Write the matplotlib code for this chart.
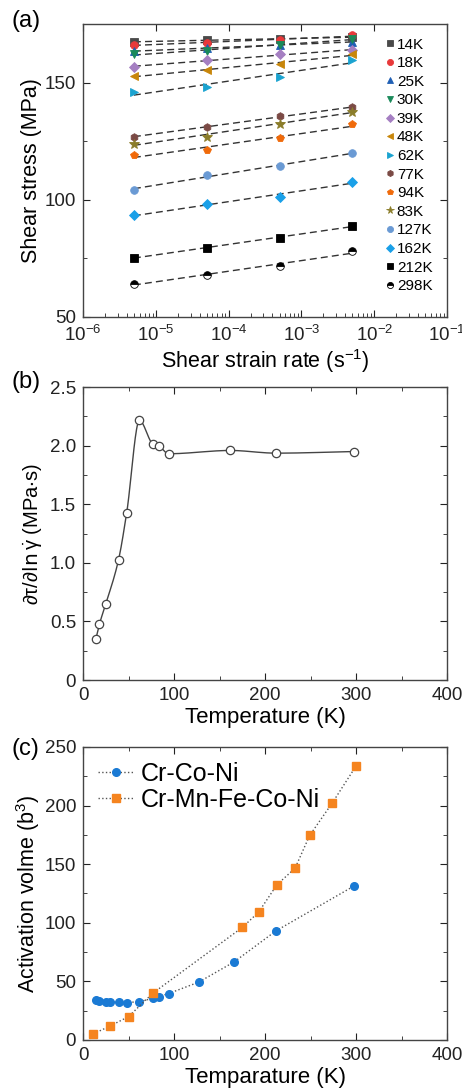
import numpy as np
import matplotlib
matplotlib.use("Agg")
import matplotlib.pyplot as plt
from matplotlib.ticker import MultipleLocator, FuncFormatter, LogLocator

plt.rcParams['font.family'] = ['Liberation Sans', 'DejaVu Sans']
plt.rcParams['mathtext.default'] = 'regular'

# ---- (a) shear stress vs strain rate ----
rates = [5e-6, 5e-5, 5e-4, 5e-3]
temps_a = ['14K', '18K', '25K', '30K', '39K', '48K', '62K', '77K', '94K', '83K',
           '127K', '162K', '212K', '298K']
stress = [
    [167.5, 168.0, 168.5, 169.5],
    [166.1, 167.0, 168.1, 170.1],
    [163.4, 164.8, 165.9, 167.4],
    [162.2, 163.4, 165.9, 168.7],
    [156.7, 159.5, 162.2, 163.7],
    [152.8, 155.3, 158.1, 162.0],
    [145.9, 148.1, 152.4, 159.8],
    [126.8, 131.2, 135.6, 139.4],
    [119.2, 121.1, 126.2, 132.3],
    [123.9, 126.9, 132.5, 137.6],
    [104.3, 110.6, 114.4, 119.8],
    [93.3, 98.2, 101.3, 107.7],
    [75.3, 79.6, 83.6, 88.9],
    [64.1, 68.0, 71.6, 78.0],
]
colors_a = ['#4a4a4a', '#e8393a', '#1f5fb4', '#1a8a5a', '#a57fc2', '#c8860a',
            '#1aa3d0', '#7b4a45', '#f06a0a', '#8b7d2a', '#6a9ad4', '#1aa0e8',
            '#000000', '#000000']
markers_a = ['s', 'o', '^', 'v', 'D', '<', '>', 'h', 'p', '*', 'o', 'D', 's', 'o']

# ---- (b) strain rate sensitivity ----
temp_b = [14, 18, 25, 39, 48, 62, 77, 83, 94, 162, 212, 298]
dtau = [0.347, 0.476, 0.649, 1.025, 1.429, 2.215, 2.013, 1.999, 1.931, 1.959, 1.936, 1.950]

# ---- (c) activation volume ----
temp_crconi = [14, 18, 25, 30, 39, 48, 62, 77, 83, 94, 127, 166, 212, 298]
vol_crconi = [34.2, 33.3, 32.7, 32.2, 32.2, 31.9, 32.7, 35.6, 37.0, 39.6, 49.3, 66.6, 93.1, 131.5]
temp_cantor = [11, 30, 50, 77, 175, 193, 213, 233, 249, 274, 300]
vol_cantor = [5.1, 12.0, 19.9, 40.1, 96.0, 109.1, 132.4, 146.6, 174.5, 202.4, 233.8]


def smooth_curve(x, y, n=400):
    # monotone cubic (Fritsch-Carlson) curve through the points
    x = np.asarray(x, float)
    y = np.asarray(y, float)
    h = np.diff(x)
    d = np.diff(y) / h
    m = np.zeros(len(x))
    m[0], m[-1] = d[0], d[-1]
    for i in range(1, len(x) - 1):
        if d[i - 1] * d[i] > 0:
            w1 = 2 * h[i] + h[i - 1]
            w2 = h[i] + 2 * h[i - 1]
            m[i] = (w1 + w2) / (w1 / d[i - 1] + w2 / d[i])
    xs = np.linspace(x[0], x[-1], n)
    k = np.clip(np.searchsorted(x, xs) - 1, 0, len(x) - 2)
    t = (xs - x[k]) / h[k]
    h00 = 2 * t ** 3 - 3 * t ** 2 + 1
    h10 = t ** 3 - 2 * t ** 2 + t
    h01 = -2 * t ** 3 + 3 * t ** 2
    h11 = t ** 3 - t ** 2
    ys = h00 * y[k] + h10 * h[k] * m[k] + h01 * y[k + 1] + h11 * h[k] * m[k + 1]
    return xs, ys


def style_axes(ax):
    ax.tick_params(which='both', direction='in', top=True, right=True,
                   labelsize=13.5, colors='#222222', pad=5)
    ax.tick_params(which='major', length=5)
    ax.tick_params(which='minor', length=3)
    for s in ax.spines.values():
        s.set_color('#444444')
        s.set_linewidth(1.0)


fig = plt.figure(figsize=(4.62, 10.9), dpi=100)

# (a)
ax1 = fig.add_axes([0.1797, 0.7092, 0.788, 0.2688])
lx = np.log10(rates)
for i, lab in enumerate(temps_a):
    coef = np.polyfit(lx, stress[i], 1)
    ax1.plot(rates, np.polyval(coef, lx), ls=(0, (5, 3)), color='#333333', lw=1.0, zorder=1)
    fs = 'top' if lab == '298K' else 'full'
    ms = 7 if markers_a[i] == '*' else 5.5
    ax1.plot(rates, stress[i], ls='none', marker=markers_a[i], color=colors_a[i],
             markersize=ms, fillstyle=fs, markerfacecoloralt='white',
             markeredgewidth=0.6, label=lab, zorder=2)
ax1.set_xscale('log')
ax1.set_xlim(1e-6, 1e-1)
ax1.set_ylim(50, 175)
ax1.yaxis.set_major_locator(MultipleLocator(50))
ax1.yaxis.set_minor_locator(MultipleLocator(25))
ax1.xaxis.set_major_locator(LogLocator(base=10, numticks=10))
ax1.xaxis.set_minor_locator(LogLocator(base=10, subs=np.arange(2, 10), numticks=10))
style_axes(ax1)
ax1.tick_params(which='minor', axis='x', top=False)
ax1.tick_params(axis='x', pad=6)
ax1.set_xlabel('Shear strain rate (s$^{-1}$)', fontsize=15.5, labelpad=1)
ax1.set_ylabel('Shear stress (MPa)', fontsize=15.5, labelpad=2)
ax1.legend(loc='upper right', bbox_to_anchor=(0.985, 0.985), frameon=False,
           fontsize=11, handlelength=0.6, handletextpad=0.15,
           labelspacing=0.3, markerscale=0.8, borderaxespad=0.2)
fig.text(0.025, 0.975, '(a)', fontsize=17)

# (b)
ax2 = fig.add_axes([0.1797, 0.3761, 0.788, 0.2688])
xs, ys = smooth_curve(temp_b, dtau)
ax2.plot(xs, ys, color='#444444', lw=1.0)
ax2.plot(temp_b, dtau, ls='none', marker='o', markersize=6, mfc='white',
         mec='#444444', mew=0.9)
ax2.set_xlim(0, 400)
ax2.set_ylim(0, 2.5)
ax2.xaxis.set_major_locator(MultipleLocator(100))
ax2.xaxis.set_minor_locator(MultipleLocator(50))
ax2.yaxis.set_major_locator(MultipleLocator(0.5))
ax2.yaxis.set_minor_locator(MultipleLocator(0.25))
ax2.yaxis.set_major_formatter(FuncFormatter(lambda v, p: '0' if abs(v) < 1e-9 else f'{v:.1f}'))
style_axes(ax2)
ax2.set_xlabel('Temperature (K)', fontsize=16, labelpad=2)
ax2.set_ylabel(r'$\partial\tau/\partial\ln\dot{\gamma}$ (MPa$\cdot$s)', fontsize=14.5, labelpad=4)
fig.text(0.025, 0.644, '(b)', fontsize=17)

# (c)
ax3 = fig.add_axes([0.1797, 0.0459, 0.788, 0.2688])
ax3.plot(temp_crconi, vol_crconi, ls=':', color='#555555', lw=1.0, marker='o',
         markersize=5.5, mfc='#1a7ad4', mec='#1a7ad4', label='Cr-Co-Ni')
ax3.plot(temp_cantor, vol_cantor, ls=':', color='#555555', lw=1.0, marker='s',
         markersize=5.5, mfc='#f5841f', mec='#f5841f', label='Cr-Mn-Fe-Co-Ni')
ax3.set_xlim(0, 400)
ax3.set_ylim(0, 250)
ax3.xaxis.set_major_locator(MultipleLocator(100))
ax3.xaxis.set_minor_locator(MultipleLocator(50))
ax3.yaxis.set_major_locator(MultipleLocator(50))
ax3.yaxis.set_minor_locator(MultipleLocator(25))
style_axes(ax3)
ax3.set_xlabel('Temparature (K)', fontsize=16, labelpad=2)
ax3.set_ylabel('Activation volme (b$^3$)', fontsize=15.5, labelpad=2)
ax3.legend(loc='upper left', bbox_to_anchor=(0.0, 1.0), frameon=False, fontsize=18,
           handlelength=1.45, handletextpad=0.25, labelspacing=0.08, borderaxespad=0.2)
fig.text(0.025, 0.307, '(c)', fontsize=17)

fig.savefig('out.png', dpi=100)
